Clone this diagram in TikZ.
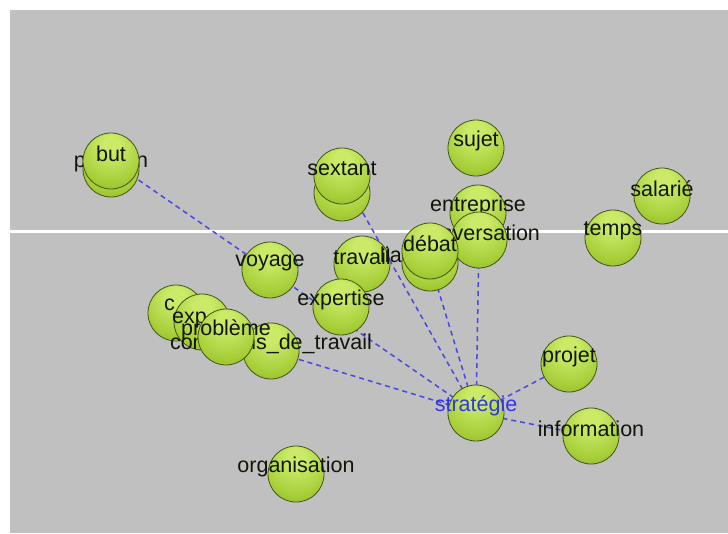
\documentclass[tikz,border=0pt]{standalone}
\usepackage{fontspec}
\setmainfont{Liberation Sans}

\definecolor{canvasgray}{RGB}{192,192,192}
\definecolor{ballhi}{RGB}{202,234,104}
\definecolor{ballmid}{RGB}{166,206,56}
\definecolor{balllo}{RGB}{118,154,28}
\definecolor{balldark}{RGB}{88,116,20}
\definecolor{balledge}{RGB}{66,86,22}
\definecolor{linkblue}{RGB}{72,72,226}
\definecolor{stratblue}{RGB}{52,52,236}
\definecolor{lblcol}{RGB}{18,22,10}

\pgfdeclareradialshading{greenball}{\pgfpoint{0bp}{16bp}}{%
  color(0bp)=(ballhi); color(8bp)=(ballhi); color(30bp)=(ballmid);
  color(52bp)=(balllo); color(64bp)=(balldark); color(90bp)=(balldark)}

\pgfdeclarelayer{back}
\pgfdeclarelayer{links}
\pgfsetlayers{back,links,main}

\begin{document}
\begin{tikzpicture}[
  x=1pt, y=-1pt,
  ball/.style={circle, minimum size=56pt, inner sep=0pt, shading=greenball, draw=balledge, line width=0.8pt},
  lbl/.style={font=\fontsize{21.5}{24}\selectfont, text=lblcol, inner sep=0pt},
  tag/.style={label={[lbl, yshift=7pt]center:#1}},
  link/.style={draw=linkblue, line width=1.5pt, dash pattern=on 5pt off 4pt}
]
\useasboundingbox (0,0) rectangle (728,533);
\begin{pgfonlayer}{back}
  \fill[white] (0,0) rectangle (728,533);
  \fill[canvasgray] (10,10) rectangle (728,533);
  \coordinate (horizonL) at (10,231);
  \coordinate (horizonR) at (728,231);
  \draw[white, line width=3pt] (horizonL) -- (horizonR);
\end{pgfonlayer}

% far spheres first, near ones last
\node[ball, tag=sujet] (sujet) at (476,148) {};
\node[ball, tag=salarié] (salarie) at (662,196) {};
\node[ball, tag=temps] (temps) at (613,238) {};
\node[ball, tag=entreprise] (entreprise) at (478,213) {};
\node[ball, tag=conversation] (conversation) at (479,240) {};
\node[ball] (sextantb) at (342,193) {};
\node[ball, tag=sextant] (sextant) at (342,176) {};
\node[ball, tag=travail] (travail) at (362,264) {};
\node[lbl, anchor=west] (liafrag) at (380,255) {lia};
\node[ball] (debatb) at (430,263) {};
\node[ball, tag=débat] (debat) at (430,251) {};
\node[ball, tag=position] (position) at (111,169) {};
\node[ball, tag=but] (but) at (111,161) {};
\node[ball, tag=voyage] (voyage) at (270,270) {};
\node[ball, tag=expertise] (expertise) at (341,307) {};
\node[ball] (cball) at (176,313) {};
\node[lbl, anchor=west] (cfrag) at (164,305) {c};
\node[ball] (expball) at (202,322) {};
\node[lbl, anchor=west] (expfrag) at (172,320) {exp};
\node[ball, tag=conditions\_de\_travail] (conditions) at (271,351) {};
\node[ball, tag=problème] (probleme) at (226,337) {};
\node[ball, tag=projet] (projet) at (569,364) {};
\node[ball, tag=information] (information) at (591,436) {};
\node[ball, label={[lbl, yshift=7pt, text=stratblue]center:stratégie}] (strategie) at (476,413) {};
\node[ball, tag=organisation] (organisation) at (296,474) {};

\begin{pgfonlayer}{links}
  \foreach \n in {but, sextant, debatb, conversation, conditions, projet, information}
    \draw[link] (strategie.center) -- (\n.center);
\end{pgfonlayer}
\end{tikzpicture}
\end{document}
